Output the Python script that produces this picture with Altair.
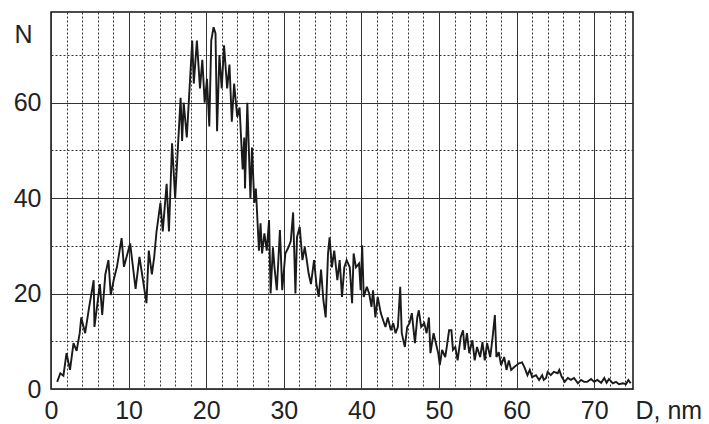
import altair as alt
import pandas as pd

# Diameter D (nm) and count N
D = [0.8, 1.2, 1.6, 2.0, 2.45, 2.9, 3.3, 3.7, 3.9, 4.4, 4.9, 5.5, 5.6, 6.3, 6.6, 7.0, 7.4, 7.7, 8.1, 8.5,
     9.1, 9.4, 10.2, 10.9, 11.4, 12.3, 12.6, 13.0, 13.3, 13.6, 14.1, 14.4, 14.9, 15.2, 15.6, 16.0, 16.7, 16.9, 17.1, 17.5,
     18.2, 18.4, 18.8, 19.2, 19.5, 19.8, 20.1, 20.4, 20.65, 20.95, 21.2, 21.4, 21.7, 22.0, 22.3, 22.7, 23.0, 23.3, 23.6, 24.0,
     24.3, 24.7, 24.9, 25.0, 25.3, 25.7, 25.9, 26.2, 26.4, 26.8, 27.0, 27.2, 27.5, 27.8, 28.1, 28.3, 28.6, 28.8, 29.1, 29.5,
     29.8, 30.2, 30.6, 30.9, 31.2, 31.5, 31.7, 32.05, 32.4, 32.7, 32.9, 33.2, 33.5, 33.9, 34.2, 34.5, 34.8, 35.1, 35.4, 35.7,
     35.9, 36.2, 36.5, 36.9, 37.2, 37.5, 37.8, 38.1, 38.5, 38.8, 39.0, 39.3, 39.7, 39.9, 40.1, 40.3, 40.7, 41.0, 41.3, 41.5,
     41.8, 42.1, 42.5, 42.8, 43.1, 43.4, 43.8, 44.1, 44.4, 44.7, 45.0, 45.2, 45.6, 45.9, 46.2, 46.5, 46.9, 47.2, 47.4, 47.7,
     48.1, 48.4, 48.7, 48.9, 49.3, 49.6, 49.9, 50.1, 50.4, 50.8, 51.0, 51.3, 51.6, 51.8, 52.1, 52.4, 52.8, 53.1, 53.3, 53.6,
     53.9, 54.3, 54.6, 54.9, 55.3, 55.6, 55.9, 56.2, 56.6, 56.9, 57.2, 57.4, 57.7, 58.0, 58.4, 58.7, 59.0, 59.3, 59.7, 60.0,
     60.3, 60.7, 61.0, 61.4, 61.7, 62.0, 62.5, 62.9, 63.3, 63.5, 63.8, 64.0, 64.4, 64.8, 65.3, 65.5, 65.8, 66.2, 66.6, 67.0,
     67.4, 67.9, 68.3, 68.7, 69.1, 69.6, 70.0, 70.4, 70.9, 71.3, 71.6, 71.9, 72.4, 72.8, 73.2, 73.7, 74.1, 74.4, 74.7]
N = [1.5, 3.3, 2.8, 7.5, 4.0, 9.6, 8.0, 11.7, 15.0, 11.7, 17.0, 22.8, 13.0, 22.0, 15.5, 24.0, 27.0, 19.7, 23.0, 25.6,
     31.6, 25.6, 30.5, 21.0, 27.7, 18.0, 29.0, 24.0, 27.7, 33.0, 39.0, 33.0, 43.0, 33.0, 51.5, 40.0, 61.0, 52.0, 60.0, 52.7,
     73.0, 64.0, 73.0, 63.0, 69.0, 60.0, 65.0, 55.0, 73.0, 75.8, 74.5, 54.0, 70.0, 63.0, 72.0, 63.0, 68.0, 56.0, 64.0, 57.0,
     59.0, 46.0, 52.7, 42.0, 60.0, 40.0, 50.6, 39.0, 42.0, 29.0, 34.7, 28.4, 32.6, 29.0, 35.4, 20.0, 29.7, 25.5, 20.7, 33.3,
     20.7, 28.4, 29.7, 31.0, 37.0, 20.0, 31.8, 34.0, 27.0, 29.7, 27.7, 24.2, 22.0, 27.0, 22.0, 19.3, 25.0, 18.6, 15.0, 28.4,
     31.8, 25.5, 29.0, 22.8, 27.0, 19.3, 25.5, 27.0, 25.5, 18.0, 28.4, 25.5, 26.3, 20.7, 30.1, 19.3, 21.4, 20.0, 17.2, 20.7,
     15.0, 19.3, 15.9, 14.4, 13.0, 15.0, 12.3, 13.8, 11.7, 13.0, 21.4, 11.7, 8.8, 13.0, 13.8, 15.9, 9.6, 15.0, 16.5, 13.0,
     13.8, 11.7, 15.0, 7.5, 11.7, 9.6, 7.5, 5.0, 8.2, 6.7, 8.8, 12.3, 12.3, 8.2, 8.8, 6.0, 10.9, 12.3, 8.2, 11.7,
     7.5, 10.2, 6.0, 8.8, 6.7, 9.8, 6.0, 9.6, 6.7, 10.7, 15.5, 6.7, 7.7, 5.0, 6.7, 4.0, 6.0, 4.0, 4.6, 5.0,
     5.4, 5.6, 4.6, 2.9, 4.0, 2.5, 2.9, 1.9, 2.9, 1.9, 2.3, 3.6, 2.9, 3.6, 3.3, 4.0, 2.6, 1.5, 2.3, 1.9,
     2.3, 1.2, 1.9, 1.5, 1.5, 2.1, 1.5, 1.9, 1.3, 2.3, 1.3, 2.1, 1.2, 1.5, 1.0, 1.2, 1.0, 1.9, 1.2]

x_ticks = list(range(0, 76, 2))
y_ticks = list(range(0, 80, 10))

df = pd.DataFrame({"D": D, "N": N})

FONT = "Liberation Sans"
FS = 25
grid_dash = {"condition": {"test": "datum.value % 10 === 0", "value": []}, "value": [2, 2]}
grid_dash_y = {"condition": {"test": "datum.value % 20 === 0", "value": []}, "value": [2, 2]}

chart = alt.Chart(df).mark_line(color="#1a1a1a", strokeWidth=1.9, strokeJoin="miter", strokeMiterLimit=3).encode(
    x=alt.X("D:Q", scale=alt.Scale(domain=[0, 75], nice=False, zero=False),
            axis=alt.Axis(values=x_ticks, grid=True, gridDash=grid_dash, gridColor="#333",
                          gridWidth=1, ticks=False, domain=False,
                          labelExpr="datum.value % 10 === 0 ? datum.label : ''",
                          labelOverlap=False, labelFlush=False, labelPadding=9,
                          labelFont=FONT, labelFontSize=FS, labelColor="#222",
                          title="D, nm", titleFont=FONT, titleFontSize=FS, titleFontWeight="normal",
                          titleColor="#222", titleAlign="left", titleBaseline="top",
                          titleX=584, titleY=9)),
    y=alt.Y("N:Q", scale=alt.Scale(domain=[0, 79], nice=False),
            axis=alt.Axis(values=y_ticks, grid=True, gridDash=grid_dash_y, gridColor="#333",
                          gridWidth=1, ticks=False, domain=False,
                          labelExpr="datum.value % 20 === 0 ? datum.label : ''",
                          labelOverlap=False, labelFlush=False, labelPadding=10,
                          labelFont=FONT, labelFontSize=FS, labelColor="#222",
                          title="N", titleFont=FONT, titleFontSize=FS, titleFontWeight="normal",
                          titleColor="#222", titleAngle=0, titleAlign="left",
                          titleBaseline="alphabetic", titleX=-37, titleY=30)),
).properties(
    width=582, height=377,
    autosize=alt.AutoSizeParams(type="none"),
    padding={"left": 51, "top": 12, "right": 76, "bottom": 35},
).configure_view(stroke="#111", strokeWidth=1.5)

chart.save("out.html", embed_options={"renderer": "svg", "actions": False})
